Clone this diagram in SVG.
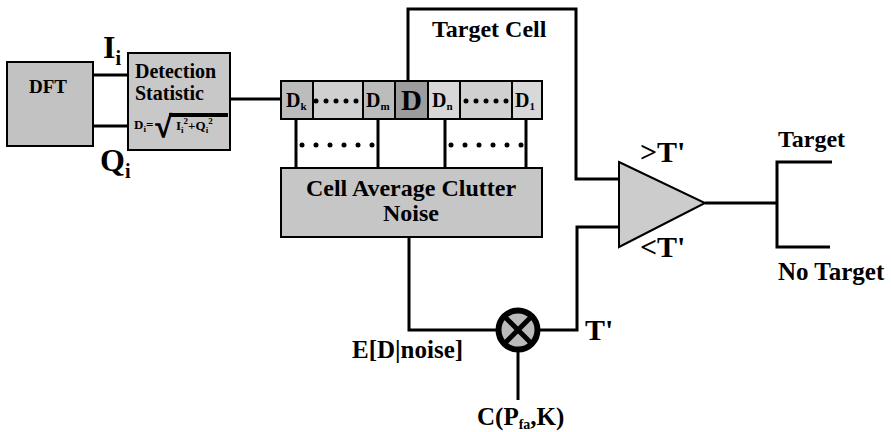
<svg xmlns="http://www.w3.org/2000/svg" width="891" height="432" viewBox="0 0 891 432">
<style>
  .t { font-family: "Liberation Serif", "Times New Roman", serif; font-weight: bold; fill: #000; }
  .box { stroke: #000; stroke-width: 2; }
  .ln { fill: none; stroke: #000; stroke-width: 3; }
  .dot { fill: #000; }
</style>
<rect width="891" height="432" fill="#fff"/>

<g id="connectors">
  <line class="ln" x1="93" y1="75" x2="128" y2="75"/>
  <line class="ln" x1="93" y1="126" x2="128" y2="126"/>
  <line class="ln" x1="230" y1="99" x2="281" y2="99"/>
  <polyline class="ln" points="408,81 408,9 576,9 576,179 619,179"/>
  <line class="ln" x1="296" y1="119" x2="296" y2="168"/>
  <line class="ln" x1="378" y1="119" x2="378" y2="168"/>
  <line class="ln" x1="445" y1="119" x2="445" y2="168"/>
  <line class="ln" x1="526" y1="119" x2="526" y2="168"/>
  <polyline class="ln" points="409,237 409,330 496,330"/>
  <polyline class="ln" points="540,330 577,330 577,227 619,227"/>
  <line class="ln" x1="518" y1="352" x2="518" y2="400"/>
  <line class="ln" x1="705" y1="203" x2="777" y2="203"/>
  <polyline class="ln" points="832,162 777,162 777,247 830,247"/>
  <g class="dot">
    <circle cx="302" cy="145" r="2.5"/><circle cx="316" cy="145" r="2.5"/><circle cx="330" cy="145" r="2.5"/>
    <circle cx="344" cy="145" r="2.5"/><circle cx="358" cy="145" r="2.5"/><circle cx="372" cy="145" r="2.5"/>
    <circle cx="451" cy="145" r="2.5"/><circle cx="465" cy="145" r="2.5"/><circle cx="479" cy="145" r="2.5"/>
    <circle cx="493" cy="145" r="2.5"/><circle cx="507" cy="145" r="2.5"/><circle cx="521" cy="145" r="2.5"/>
  </g>
</g>

<g id="dft">
  <rect class="box" x="7" y="62" width="86" height="84" fill="#c2c2c2"/>
  <text class="t" x="48" y="93" font-size="19" text-anchor="middle">DFT</text>
</g>

<g id="labels-iq">
  <text class="t" x="103" y="58" font-size="32">I<tspan font-size="20" dy="7">i</tspan></text>
  <text class="t" x="100" y="171" font-size="32">Q<tspan font-size="20" dy="7">i</tspan></text>
</g>

<g id="detection-statistic">
  <rect class="box" x="128" y="53" width="102" height="97" fill="#c8c8c8"/>
  <text class="t" x="135" y="78" font-size="20">Detection</text>
  <text class="t" x="135" y="100" font-size="20">Statistic</text>
  <text class="t" x="134" y="129" font-size="13">D<tspan font-size="9" dy="3">i</tspan><tspan dy="-3">=</tspan></text>
  <text class="t" x="155" y="137" font-size="30" stroke="#000" stroke-width="1.2">√</text>
  <line x1="169" y1="115" x2="228" y2="115" stroke="#000" stroke-width="4"/>
  <text class="t" x="176" y="130" font-size="13">I<tspan font-size="9" dy="3">i</tspan><tspan font-size="9" dy="-9">2</tspan><tspan dy="6">+</tspan><tspan dy="0">Q</tspan><tspan font-size="9" dy="3">i</tspan><tspan font-size="9" dy="-9">2</tspan></text>
</g>

<g id="cells">
  <rect class="box" x="281" y="81" width="32" height="38" fill="#bcbcbc"/>
  <rect class="box" x="313" y="81" width="50" height="38" fill="#d0d0d0"/>
  <rect class="box" x="363" y="81" width="32" height="38" fill="#bcbcbc"/>
  <rect class="box" x="395" y="81" width="33" height="38" fill="#9c9c9c"/>
  <rect class="box" x="428" y="81" width="32" height="38" fill="#d8d8d8"/>
  <rect class="box" x="460" y="81" width="52" height="38" fill="#d0d0d0"/>
  <rect class="box" x="512" y="81" width="30" height="38" fill="#d8d8d8"/>
  <text class="t" x="286" y="107" font-size="20">D<tspan font-size="11" dy="3">k</tspan></text>
  <text class="t" x="366" y="107" font-size="20">D<tspan font-size="11" dy="3">m</tspan></text>
  <text class="t" x="411.5" y="110" font-size="29" text-anchor="middle">D</text>
  <text class="t" x="432" y="107" font-size="20">D<tspan font-size="11" dy="3">n</tspan></text>
  <text class="t" x="515" y="107" font-size="20">D<tspan font-size="11" dy="3">1</tspan></text>
  <g class="dot">
    <circle cx="316" cy="101" r="2.5"/><circle cx="326" cy="101" r="2.5"/><circle cx="336" cy="101" r="2.5"/>
    <circle cx="346" cy="101" r="2.5"/><circle cx="356" cy="101" r="2.5"/>
    <circle cx="466" cy="101" r="2.5"/><circle cx="476" cy="101" r="2.5"/><circle cx="486" cy="101" r="2.5"/>
    <circle cx="496" cy="101" r="2.5"/><circle cx="506" cy="101" r="2.5"/>
  </g>
</g>

<g id="target-cell-label">
  <text class="t" x="432" y="37" font-size="24">Target Cell</text>
</g>

<g id="cell-average">
  <rect class="box" x="281" y="168" width="261" height="69" fill="#c6c6c6"/>
  <text class="t" x="411" y="196" font-size="24" text-anchor="middle">Cell Average Clutter</text>
  <text class="t" x="411" y="221" font-size="24" text-anchor="middle">Noise</text>
</g>

<g id="comparator">
  <polygon points="619,162 705,203 619,247" fill="#cccccc" stroke="#000" stroke-width="2"/>
  <text class="t" x="640" y="162" font-size="30">&gt;T'</text>
  <text class="t" x="640" y="257" font-size="30">&lt;T'</text>
</g>

<g id="multiplier">
  <circle cx="518" cy="330" r="19.5" fill="#bbbbbb" stroke="#000" stroke-width="6"/>
  <line x1="505" y1="317" x2="531" y2="343" stroke="#000" stroke-width="5"/>
  <line x1="531" y1="317" x2="505" y2="343" stroke="#000" stroke-width="5"/>
</g>

<g id="outputs">
  <text class="t" x="778" y="147" font-size="24">Target</text>
  <text class="t" x="778" y="280" font-size="25">No Target</text>
</g>

<g id="threshold-labels">
  <text class="t" x="352" y="358" font-size="25">E[D|noise]</text>
  <text class="t" x="585" y="340" font-size="30">T'</text>
  <text class="t" x="477" y="425" font-size="25">C(P<tspan font-size="14" dy="4">fa</tspan><tspan dy="-4">,K)</tspan></text>
</g>
</svg>
